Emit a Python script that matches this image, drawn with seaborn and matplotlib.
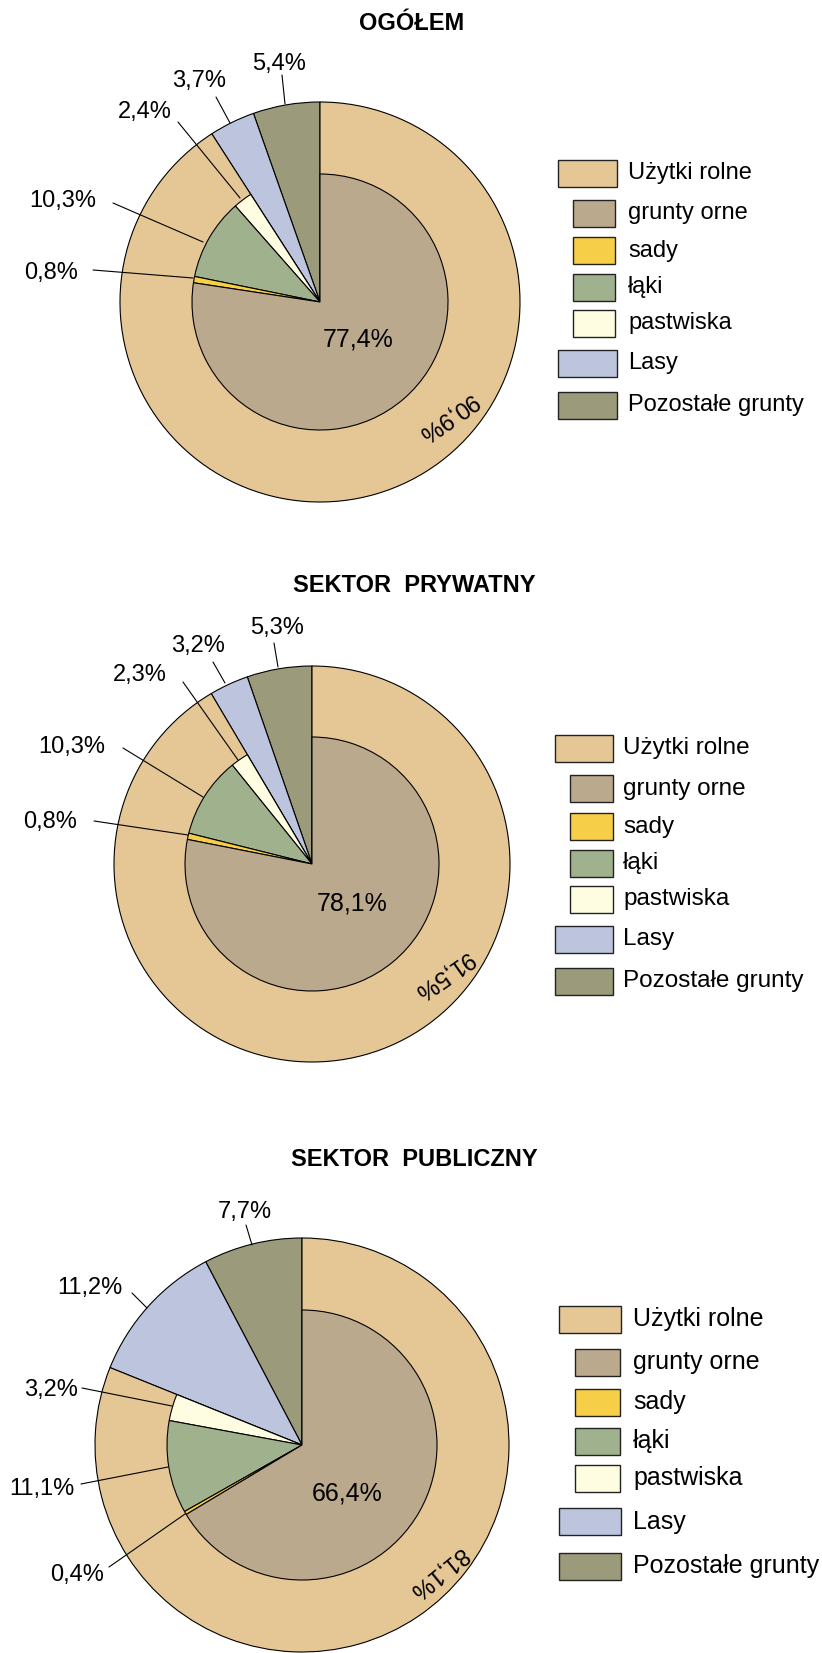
"""
Struktura użytkowania gruntów - trzy wykresy kołowe (ogółem / prywatny / publiczny)
"""

import numpy as np
import matplotlib.pyplot as plt
import seaborn as sns
from matplotlib.patches import Rectangle

sns.set_theme(style='white')
plt.rcParams['font.family'] = ['Liberation Sans', 'DejaVu Sans']
plt.rcParams['text.color'] = 'black'

# ── Data ──────────────────────────────────────────────────────
TITLES = ['OGÓŁEM', 'SEKTOR  PRYWATNY', 'SEKTOR  PUBLICZNY']

pozostale   = [5.4, 5.3, 7.7]
lasy        = [3.7, 3.2, 11.2]
uzytki      = [90.9, 91.5, 81.1]
pastwiska   = [2.4, 2.3, 3.2]
laki        = [10.3, 10.3, 11.1]
sady        = [0.8, 0.8, 0.4]
grunty_orne = [77.4, 78.1, 66.4]

C_UZYTKI = '#E5C796'
C_ORNE   = '#BBA98D'
C_SADY   = '#F7CE47'
C_LAKI   = '#A0B18E'
C_PASTW  = '#FEFCE1'
C_LASY   = '#BCC5DD'
C_POZOST = '#9B9A7A'

LEGEND = [('Użytki rolne', C_UZYTKI, False),
          ('grunty orne', C_ORNE, True),
          ('sady', C_SADY, True),
          ('łąki', C_LAKI, True),
          ('pastwiska', C_PASTW, True),
          ('Lasy', C_LASY, False),
          ('Pozostałe grunty', C_POZOST, False)]

# ── Layout (pixels, y from top) ───────────────────────────────
W, H = 822, 1653
CENTERS = [(320, 302), (312, 864), (302, 1445)]
R_OUT = [200, 198, 207]
R_IN = [128, 127, 135]
TITLE_POS = [(412, 24), (414, 585), (414, 1160)]

# small labels: pozostałe, lasy, pastwiska, łąki, sady -> (text xy, line start, line end)
SMALL = [
    [((279, 64), (282, 75), (285, 104)),
     ((199, 81), (216, 97), (230, 123)),
     ((145, 112), (178, 122), (240, 198)),
     ((63, 201), (113, 203), (203, 242)),
     ((51, 273), (93, 270), (193, 278))],
    [((277, 628), (274, 643), (278, 667)),
     ((198, 646), (213, 662), (225, 683)),
     ((140, 675), (183, 682), (238, 760)),
     ((72, 747), (123, 748), (203, 797)),
     ((50, 822), (94, 821), (188, 835))],
    [((245, 1212), (246, 1225), (252, 1245)),
     ((90, 1288), (132, 1293), (147, 1308)),
     ((51, 1390), (82, 1388), (172, 1406)),
     ((42, 1489), (81, 1484), (168, 1467)),
     ((77, 1575), (109, 1567), (185, 1514))],
]
INNER_LBL = [(358, 340), (352, 903), (347, 1494)]
ROT_LBL = [((447, 417), 215), ((443, 975), 215), ((438, 1572), 219)]

LEG_X = [(558, 573, 628, 59, 42), (555, 570, 623, 58, 43), (559, 575, 633, 62, 45)]
LEG_ROWS = [[173, 213, 250.5, 287, 323, 363.5, 405],
            [748, 788.5, 826.5, 863.5, 899.5, 939.5, 981],
            [1319, 1362.5, 1402.5, 1441, 1478.5, 1521.5, 1566]]
LEG_FS = [17, 17.5, 18]


def Y(y):
    return H - y


def pct(v):
    return f'{v:.1f}'.replace('.', ',') + '%'


fig = plt.figure(figsize=(W / 100, H / 100), dpi=100)
ax = fig.add_axes([0, 0, 1, 1])

edge = dict(edgecolor='black', linewidth=0.8)
LBL_FS = 17

for i in range(3):
    cx, cy = CENTERS[i]
    center = (cx, Y(cy))

    # outer ring: pozostałe, lasy, użytki rolne (counter-clockwise from 12 o'clock)
    ax.pie([pozostale[i], lasy[i], uzytki[i]],
           colors=[C_POZOST, C_LASY, C_UZYTKI],
           startangle=90, counterclock=True,
           radius=R_OUT[i], center=center, wedgeprops=edge)

    # inner part of użytki rolne
    start = 90 + (pozostale[i] + lasy[i]) * 3.6
    inner = np.array([pastwiska[i], laki[i], sady[i], grunty_orne[i]]) / 100
    ax.pie(inner, colors=[C_PASTW, C_LAKI, C_SADY, C_ORNE],
           startangle=start, counterclock=True, normalize=False,
           radius=R_IN[i], center=center, wedgeprops=edge)

    # title
    tx, ty = TITLE_POS[i]
    ax.text(tx, Y(ty), TITLES[i], ha='center', va='center',
            fontsize=17, fontweight='bold')

    # small labels with leader lines
    vals = [pozostale[i], lasy[i], pastwiska[i], laki[i], sady[i]]
    for v, (txy, p0, p1) in zip(vals, SMALL[i]):
        ax.text(txy[0], Y(txy[1]), pct(v), ha='center', va='center',
                fontsize=LBL_FS)
        ax.plot([p0[0], p1[0]], [Y(p0[1]), Y(p1[1])],
                color='black', lw=0.8, zorder=5)

    # big labels
    ix, iy = INNER_LBL[i]
    ax.text(ix, Y(iy), pct(grunty_orne[i]), ha='center', va='center',
            fontsize=18)
    (rx, ry), rot = ROT_LBL[i]
    ax.text(rx, Y(ry), pct(uzytki[i]), ha='center', va='center',
            fontsize=LBL_FS, rotation=rot, rotation_mode='anchor')

    # legend
    bx_big, bx_sub, tx_leg, w_big, w_sub = LEG_X[i]
    for (name, col, sub), yc in zip(LEGEND, LEG_ROWS[i]):
        bx = bx_sub if sub else bx_big
        bw = w_sub if sub else w_big
        bh = 27
        ax.add_patch(Rectangle((bx, Y(yc) - bh / 2), bw, bh,
                               facecolor=col, edgecolor='#222222', lw=1.0))
        ax.text(tx_leg, Y(yc), name, ha='left', va='center',
                fontsize=LEG_FS[i])

ax.set_xlim(0, W)
ax.set_ylim(0, H)
ax.set_aspect('equal')
ax.axis('off')

plt.savefig('out.png', dpi=100)
plt.close()
